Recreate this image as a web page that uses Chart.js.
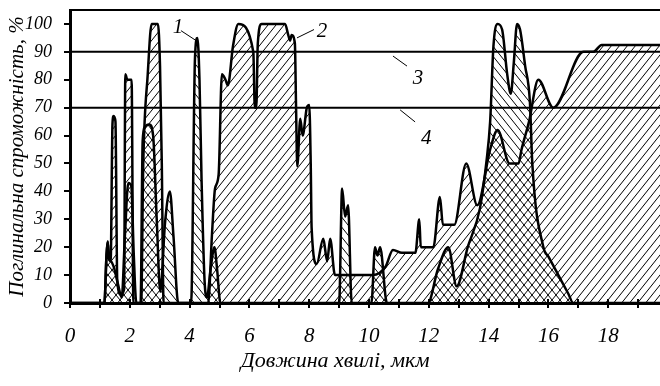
<!DOCTYPE html>
<html><head><meta charset="utf-8">
<script src="https://cdn.jsdelivr.net/npm/chart.js@4.4.1/dist/chart.umd.min.js"></script>
<style>html,body{margin:0;padding:0;background:#fff;}canvas{display:block;}</style>
</head><body>
<canvas id="c" width="660" height="386"></canvas>
<script>
// ---- data ----
const xTickLabels = [0, 2, 4, 6, 8, 10, 12, 14, 16, 18];
const yTickValues = [0, 10, 20, 30, 40, 50, 60, 70, 80, 90, 100];

const curve1X = [0, 1.15, 1.22, 1.26, 1.3, 1.37, 1.46, 1.6, 1.73, 1.84, 1.95, 2.05, 2.13, 2.22, 2.36, 2.43, 2.5, 2.65, 2.78, 2.9, 3.02, 3.18, 3.34, 3.46, 3.62, 4.05, 4.18, 4.26, 4.33, 4.4, 4.5, 4.58, 4.7, 4.83, 4.92, 5.03, 9.0, 9.1, 9.2, 9.3, 9.42, 10.08, 10.2, 10.28, 10.37, 10.6, 11.97, 12.3, 12.65, 12.93, 13.3, 13.71, 13.93, 14.05, 14.16, 14.3, 14.45, 14.62, 14.74, 14.84, 14.95, 15.05, 15.22, 15.38, 15.46, 15.83, 16.0, 16.33, 16.66, 16.83, 19.73];
const curve1Y = [0, 0, 17, 22, 16, 15, 13, 7, 2, 25, 43, 42, 18, 0, 0, 58, 63, 64, 60, 30, 4, 29, 40, 24, 0, 0, 88, 95, 80, 44, 8, 2, 12, 20, 12, 0, 0, 41, 31, 35, 0, 0, 20, 17, 20, 0, 0, 12, 20, 6, 20, 34, 51, 65, 92, 100, 98, 82, 75, 86, 100, 98, 85, 72, 50, 20, 16.6, 10, 3.4, 0, 0];

const curve2X = [0, 1.15, 1.22, 1.26, 1.3, 1.36, 1.42, 1.46, 1.52, 1.58, 1.7, 1.81, 1.85, 1.92, 2.06, 2.12, 2.38, 2.45, 2.6, 2.73, 2.94, 3.01, 3.07, 3.13, 4.62, 4.75, 4.85, 4.97, 5.08, 5.2, 5.28, 5.45, 5.63, 6.13, 6.18, 6.23, 6.28, 6.41, 7.19, 7.3, 7.36, 7.41, 7.52, 7.56, 7.6, 7.7, 7.78, 7.92, 8.0, 8.05, 8.08, 8.25, 8.47, 8.6, 8.7, 8.86, 10.13, 10.55, 10.8, 11.1, 11.55, 11.68, 11.73, 12.15, 12.37, 12.47, 12.85, 13.25, 13.62, 14.05, 14.3, 14.7, 15.0, 15.1, 15.35, 15.66, 16.16, 17.17, 17.5, 17.78, 19.73];
const curve2Y = [0, 0, 17, 22, 16, 15, 64, 67, 65, 8, 3, 5, 82, 80, 80, 0, 0, 50, 82, 100, 100, 85, 50, 0, 0, 25, 41, 46, 82, 80, 78, 92, 100, 90, 70, 70, 93, 100, 100, 96, 94, 96, 93, 70, 49, 66, 60, 70, 71, 50, 27, 14, 23, 15, 23, 10, 10, 13, 19, 18, 18, 30, 20, 20, 38, 28, 28, 50, 35, 55, 62, 50, 50, 55, 65, 80, 70, 90, 90, 92.5, 92.5];

const levelValues = [90, 70];           // horizontal reference lines 3 and 4
const curveLabels = ['1', '2', '3', '4'];
const xTitle = 'Довжина хвилі, мкм';
const yTitle = 'Поглинальна спроможність, %';

const X_MIN = 0, X_MAX = 19.73, Y_MIN = 0, Y_MAX = 105;

// ---- helpers ----
const canvas = document.getElementById('c');
const ctx = canvas.getContext('2d');
const FONT = "'Liberation Serif', 'Times New Roman', serif";

function hatch(dir) {
  const w = 8, h = 10;
  const c = document.createElement('canvas');
  c.width = w; c.height = h;
  const g = c.getContext('2d');
  g.strokeStyle = '#000';
  g.lineWidth = 1;
  g.beginPath();
  for (const o of [-w, 0, w]) {
    if (dir > 0) { g.moveTo(o, h); g.lineTo(o + w, 0); }
    else { g.moveTo(o, 0); g.lineTo(o + w, h); }
  }
  g.stroke();
  return ctx.createPattern(c, 'repeat');
}
const pts = (xs, ys) => xs.map((x, i) => ({ x, y: ys[i] }));

const levelSets = levelValues.map(v => ({
  data: [{ x: X_MIN, y: v }, { x: X_MAX, y: v }],
  borderColor: '#000', borderWidth: 2, fill: false, pointRadius: 0
}));

// annotation placement (data coords)
const labelPlace = [
  { t: [3.61, 98.6], a: [3.71, 97.6], b: [4.18, 94.3] },
  { t: [8.43, 97.3], a: [8.16, 98.0], b: [7.59, 95.0] },
  { t: [11.64, 80.3], a: [10.8, 88.5], b: [11.27, 84.9] },
  { t: [11.91, 59.1], a: [11.04, 69.2], b: [11.54, 64.9] }
];

const overlay = {
  id: 'overlay',
  afterDraw(chart) {
    const { ctx: c, chartArea: ca, scales: { x, y } } = chart;
    c.save();
    c.strokeStyle = '#000';
    c.fillStyle = '#000';
    // top frame line
    c.lineWidth = 2;
    c.beginPath(); c.moveTo(ca.left, ca.top); c.lineTo(ca.right, ca.top); c.stroke();
    // tick nubs above x axis
    for (let v = 0; v <= Math.floor(X_MAX); v++) {
      const px = Math.round(x.getPixelForValue(v));
      c.beginPath(); c.moveTo(px, ca.bottom - 4); c.lineTo(px, ca.bottom); c.stroke();
    }
    // x axis title
    c.font = "italic 22px " + FONT;
    c.textAlign = 'center';
    c.textBaseline = 'middle';
    c.fillText(xTitle, x.getPixelForValue(10) - 34, ca.bottom + 58);
    // labels
    c.lineWidth = 1;
    c.font = "italic 21px " + FONT;
    labelPlace.forEach((p, i) => {
      c.beginPath();
      c.moveTo(x.getPixelForValue(p.a[0]), y.getPixelForValue(p.a[1]));
      c.lineTo(x.getPixelForValue(p.b[0]), y.getPixelForValue(p.b[1]));
      c.stroke();
      c.fillText(curveLabels[i], x.getPixelForValue(p.t[0]), y.getPixelForValue(p.t[1]));
    });
    c.restore();
  }
};

new Chart(ctx, {
  type: 'line',
  data: {
    datasets: [
      { data: pts(curve1X, curve1Y), borderColor: '#000', borderWidth: 2.5, backgroundColor: hatch(-1),
        fill: 'origin', pointRadius: 0, cubicInterpolationMode: 'monotone', borderJoinStyle: 'round' },
      { data: pts(curve2X, curve2Y), borderColor: '#000', borderWidth: 2.5, backgroundColor: hatch(1),
        fill: 'origin', pointRadius: 0, cubicInterpolationMode: 'monotone', borderJoinStyle: 'round' },
      ...levelSets
    ]
  },
  options: {
    responsive: false, animation: false, devicePixelRatio: 1,
    layout: { padding: { top: 10, left: 0, right: 0, bottom: 0 } },
    plugins: { legend: { display: false }, tooltip: { enabled: false } },
    scales: {
      x: {
        type: 'linear', min: X_MIN, max: X_MAX,
        afterBuildTicks: s => { s.ticks = Array.from({ length: Math.floor(X_MAX) + 1 }, (_, i) => ({ value: i })); },
        afterFit: s => { s.height = 83; s.paddingLeft = 0; s.paddingRight = 0; },
        ticks: { autoSkip: false, maxRotation: 0, color: '#000', padding: 16,
          font: { family: FONT, style: 'italic', size: 21 },
          callback: v => xTickLabels.includes(v) ? String(v) : '' },
        grid: { drawOnChartArea: false, drawTicks: true, tickLength: 5, color: '#000', lineWidth: 2 },
        border: { display: true, color: '#000', width: 3 },
        title: { display: false }
      },
      y: {
        min: Y_MIN, max: Y_MAX,
        afterBuildTicks: s => { s.ticks = yTickValues.map(v => ({ value: v })); },
        afterFit: s => { s.width = 70; s.paddingTop = 0; s.paddingBottom = 0; },
        ticks: { color: '#000', padding: 12, font: { family: FONT, style: 'italic', size: 18 } },
        grid: { drawOnChartArea: false, drawTicks: true, tickLength: 6, color: '#000', lineWidth: 2 },
        border: { display: true, color: '#000', width: 3 },
        title: { display: true, text: yTitle, color: '#000',
          font: { family: FONT, style: 'italic', size: 21 }, padding: { top: 5, bottom: 0 } }
      }
    }
  },
  plugins: [overlay]
});
</script>
</body></html>
